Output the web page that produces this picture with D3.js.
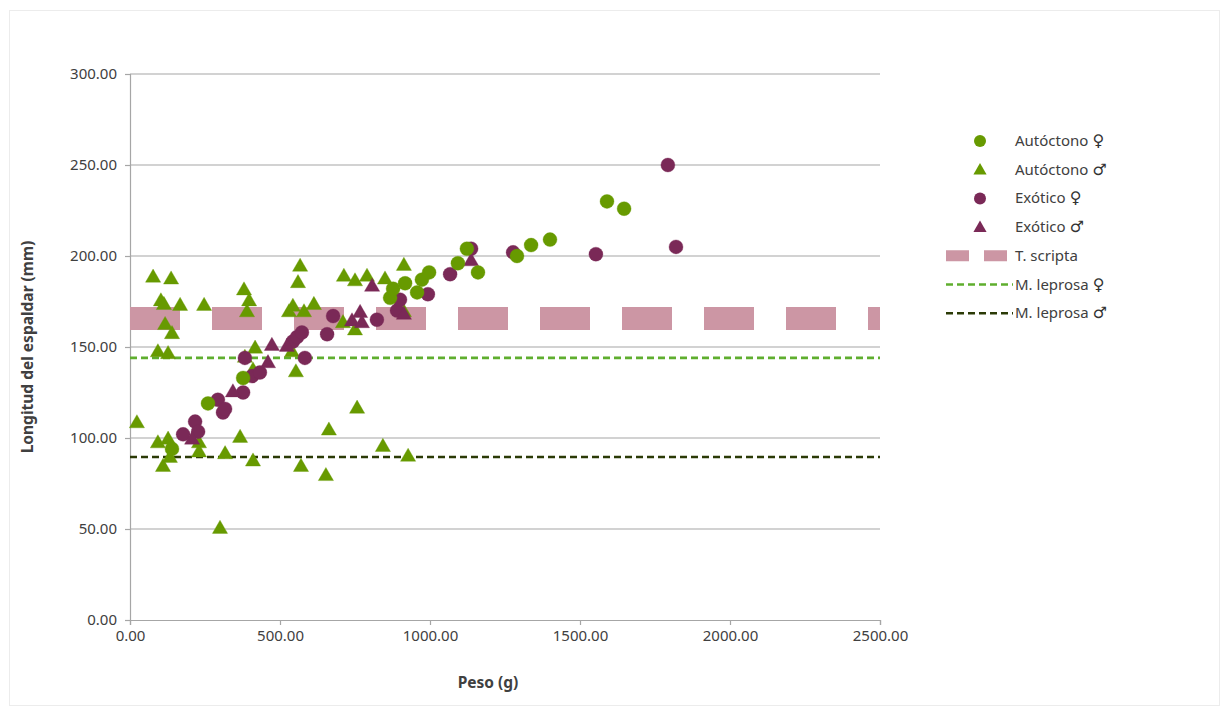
<!DOCTYPE html>
<html lang="es">
<head>
<meta charset="utf-8">
<script src="https://cdn.jsdelivr.net/npm/d3@7"></script>
<style>
  html, body { margin: 0; padding: 0; background: #fff; }
  svg { display: block; }
  text { font-family: "Noto Sans", "Open Sans", sans-serif; fill: #404040; }
</style>
</head>
<body>
<svg id="chart" width="1224" height="711"></svg>
<script>
// Peso (g) vs. longitud del espaldar (mm), pairs of [peso, longitud]
const autoctonoHembra = [
  [140, 94], [260, 119], [377, 133], [867, 177], [877, 182], [917, 185],
  [957, 180], [973, 187], [997, 191], [1093, 196], [1123, 204], [1160, 191],
  [1290, 200], [1337, 206], [1400, 209], [1590, 230], [1647, 226]
];
const autoctonoMacho = [
  [23, 108], [77, 188], [137, 187], [103, 175], [113, 173], [167, 172.5],
  [247, 172.5], [117, 162], [140, 157], [93, 147], [127, 146],
  [380, 181], [397, 175], [390, 169], [417, 149], [383, 144], [410, 137],
  [93, 97], [127, 99], [110, 84], [133, 89], [230, 97], [230, 92],
  [317, 91], [367, 100], [410, 87], [300, 50],
  [757, 116], [663, 104], [843, 95], [570, 84], [653, 79], [927, 89.6],
  [567, 194], [560, 185], [543, 172], [530, 169], [580, 169], [613, 173],
  [713, 188.5], [750, 186], [790, 188.5], [850, 187], [913, 194.5],
  [710, 163], [750, 159], [540, 147], [553, 136], [913, 169]
];
const exoticoHembra = [
  [177, 102], [217, 109], [227, 103.5], [293, 121], [310, 114], [317, 116],
  [377, 125], [407, 134], [433, 136], [383, 144], [543, 153], [557, 155.5],
  [573, 158], [583, 144], [657, 157], [677, 167], [823, 165], [890, 170],
  [900, 176], [993, 179], [1067, 190], [1137, 204], [1277, 202],
  [1553, 201], [1793, 250], [1820, 205]
];
const exoticoMacho = [
  [207, 99], [343, 125], [460, 141], [473, 150.5], [523, 150], [740, 164],
  [767, 168.6], [773, 163], [807, 183], [913, 167.6], [1137, 197]
];
// Reference lengths drawn as horizontal lines across the weight range
const tScripta = 165.7;
const leprosaHembra = 144;
const leprosaMacho = 89.6;

const xTicks = [0, 500, 1000, 1500, 2000, 2500];
const yTicks = [0, 50, 100, 150, 200, 250, 300];

const colors = {
  autoctono: "#679a00",
  exotico: "#7a2957",
  tScripta: "#cc96a4",
  leprosaH: "#5fae2e",
  leprosaM: "#2b3a06",
  grid: "#a6a6a6"
};

const svg = d3.select("#chart");

// outer frame
svg.append("rect")
  .attr("x", 9.5).attr("y", 10.5).attr("width", 1210).attr("height", 695)
  .attr("fill", "none").attr("stroke", "#ececec");

const x = d3.scaleLinear().domain([0, 2500]).range([130, 880]);
const y = d3.scaleLinear().domain([0, 300]).range([620, 74]);

// horizontal grid
svg.append("g")
  .selectAll("line")
  .data(yTicks.filter(d => d > 0))
  .join("line")
  .attr("x1", x(0)).attr("x2", x(2500))
  .attr("y1", d => y(d)).attr("y2", d => y(d))
  .attr("stroke", colors.grid).attr("stroke-width", 1.2);

// axes
const fmt = d3.format(".2f");
const yAxis = svg.append("g")
  .attr("transform", `translate(${x(0)},0)`)
  .call(d3.axisLeft(y).tickValues(yTicks).tickFormat(fmt).tickSize(5).tickPadding(8));
const xAxis = svg.append("g")
  .attr("transform", `translate(0,${y(0)})`)
  .call(d3.axisBottom(x).tickValues(xTicks).tickFormat(fmt).tickSize(5).tickPadding(5));
[xAxis, yAxis].forEach(a => {
  a.select(".domain").attr("stroke", colors.grid).attr("stroke-width", 1.2);
  a.selectAll(".tick line").attr("stroke", colors.grid).attr("stroke-width", 1.2);
  a.selectAll(".tick text")
    .attr("font-family", '"Noto Sans", sans-serif')
    .attr("font-size", 15).attr("fill", "#333333");
});

// reference lines
const line = d3.line().x(d => x(d[0])).y(d => y(d[1]));
const span = v => [[0, v], [2500, v]];
svg.append("clipPath").attr("id", "plot-clip")
  .append("rect").attr("x", x(0)).attr("y", y(300) - 20)
  .attr("width", x(2500) - x(0)).attr("height", y(0) - y(300) + 20);

const refs = svg.append("g").attr("clip-path", "url(#plot-clip)");
refs.append("path").datum(span(tScripta)).attr("d", line)
  .attr("fill", "none").attr("stroke", colors.tScripta)
  .attr("stroke-width", 23).attr("stroke-dasharray", "50 32");
refs.append("path").datum(span(leprosaHembra)).attr("d", line)
  .attr("fill", "none").attr("stroke", colors.leprosaH)
  .attr("stroke-width", 2.6).attr("stroke-dasharray", "7 4");
refs.append("path").datum(span(leprosaMacho)).attr("d", line)
  .attr("fill", "none").attr("stroke", colors.leprosaM)
  .attr("stroke-width", 2.6).attr("stroke-dasharray", "7 4");

// markers
const tri = d3.symbol().type(d3.symbolTriangle).size(100);
function triangles(data, color) {
  svg.append("g").selectAll("path").data(data).join("path")
    .attr("d", tri)
    .attr("transform", d => `translate(${x(d[0])},${y(d[1])})`)
    .attr("fill", color).attr("stroke", color).attr("stroke-opacity", 0.35).attr("stroke-width", 1);
}
function circles(data, color) {
  svg.append("g").selectAll("circle").data(data).join("circle")
    .attr("cx", d => x(d[0])).attr("cy", d => y(d[1])).attr("r", 7)
    .attr("fill", color).attr("stroke", color).attr("stroke-opacity", 0.35).attr("stroke-width", 1);
}
triangles(autoctonoMacho, colors.autoctono);
circles(exoticoHembra, colors.exotico);
triangles(exoticoMacho, colors.exotico);
circles(autoctonoHembra, colors.autoctono);

// axis titles
svg.append("text")
  .attr("transform", `translate(33,${(y(0) + y(300)) / 2}) rotate(-90)`)
  .attr("text-anchor", "middle")
  .attr("font-size", 15.5).attr("font-weight", "bold").attr("fill", "#000")
  .text("Longitud del espaldar (mm)");
svg.append("text")
  .attr("x", 488).attr("y", 688)
  .attr("text-anchor", "middle")
  .attr("font-size", 15.5).attr("font-weight", "bold").attr("fill", "#000")
  .text("Peso (g)");

// legend
const legendItems = [
  { label: "Autóctono", sex: "♀", kind: "circle", color: colors.autoctono },
  { label: "Autóctono", sex: "♂", kind: "triangle", color: colors.autoctono },
  { label: "Exótico", sex: "♀", kind: "circle", color: colors.exotico },
  { label: "Exótico", sex: "♂", kind: "triangle", color: colors.exotico },
  { label: "T. scripta", sex: "", kind: "band", color: colors.tScripta },
  { label: "M. leprosa", sex: "♀", kind: "dash", color: colors.leprosaH },
  { label: "M. leprosa", sex: "♂", kind: "dash", color: colors.leprosaM }
];
const legend = svg.append("g");
legendItems.forEach((it, i) => {
  const cy = 141 + i * 28.7;
  const g = legend.append("g");
  if (it.kind === "circle") {
    g.append("circle").attr("cx", 980).attr("cy", cy).attr("r", 6).attr("fill", it.color);
  } else if (it.kind === "triangle") {
    g.append("path").attr("d", d3.symbol().type(d3.symbolTriangle).size(75))
      .attr("transform", `translate(980,${cy + 1})`).attr("fill", it.color);
  } else if (it.kind === "band") {
    g.append("line").attr("x1", 946).attr("x2", 1008).attr("y1", cy).attr("y2", cy)
      .attr("stroke", it.color).attr("stroke-width", 11).attr("stroke-dasharray", "23 15");
  } else {
    g.append("line").attr("x1", 946).attr("x2", 1013).attr("y1", cy).attr("y2", cy)
      .attr("stroke", it.color).attr("stroke-width", 2.6).attr("stroke-dasharray", "7 4");
  }
  const t = g.append("text").attr("x", 1015).attr("y", cy + 5)
    .attr("font-size", 15).attr("fill", "#404040").text(it.label);
  if (it.sex) {
    t.append("tspan").attr("font-family", '"DejaVu Sans", sans-serif')
      .attr("font-size", 16).attr("font-weight", "bold").attr("fill", "#333")
      .attr("dx", 4).text(it.sex);
  }
});
</script>
</body>
</html>
